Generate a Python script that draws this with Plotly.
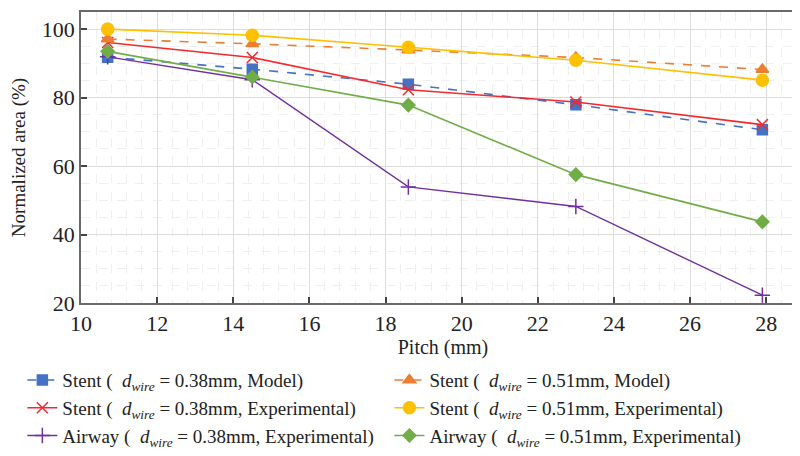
import plotly.graph_objects as go

pitch = [10.7, 14.5, 18.6, 23.0, 27.9]
stent038_model = [91.8, 88.3, 83.9, 77.9, 70.6]
stent051_model = [97.1, 95.7, 93.9, 91.7, 88.2]
stent038_exp = [96.1, 91.7, 82.3, 78.7, 72.1]
stent051_exp = [100.0, 98.2, 94.7, 90.9, 85.1]
airway038_exp = [91.9, 85.2, 53.9, 48.2, 22.3]
airway051_exp = [93.5, 86.0, 77.8, 57.5, 43.7]

def lab(kind, d, src):
    return f"{kind} (  <i>d</i><sub><i>wire</i></sub> = {d}mm, {src})"

series = [
    (lab("Stent", "0.38", "Model"), stent038_model, "#4472C4", "dash", "square", 10, 1.6, "legend"),
    (lab("Stent", "0.38", "Experimental"), stent038_exp, "#F5282D", "solid", "x-thin", 11, 1.6, "legend"),
    (lab("Airway", "0.38", "Experimental"), airway038_exp, "#7030A0", "solid", "cross-thin", 11, 1.4, "legend"),
    (lab("Stent", "0.51", "Model"), stent051_model, "#ED7D31", "dash", "triangle-up", 11, 1.6, "legend2"),
    (lab("Stent", "0.51", "Experimental"), stent051_exp, "#FFC000", "solid", "circle", 12, 1.6, "legend2"),
    (lab("Airway", "0.51", "Experimental"), airway051_exp, "#70AD47", "solid", "diamond", 10, 1.6, "legend2"),
]

fig = go.Figure()
for name, ys, col, dash, sym, size, lw, lg in series:
    fig.add_trace(go.Scatter(
        x=pitch, y=ys, name=name, mode="lines+markers", legend=lg,
        line=dict(color=col, width=lw, dash=dash),
        marker=dict(symbol=sym, size=size, color=col, line=dict(color=col, width=1.5)),
    ))

font = "Liberation Serif"
legfont = dict(family=font, size=19, color="#222")
fig.update_layout(
    width=800, height=456,
    margin=dict(l=73, r=3, t=4, b=161, autoexpand=False),
    paper_bgcolor="white", plot_bgcolor="white",
    font=dict(family=font, size=19, color="#222"),
    showlegend=True,
    legend=dict(
        orientation="v", xref="paper", yref="paper",
        x=-0.081, y=-0.20, xanchor="left", yanchor="top",
        font=legfont, tracegroupgap=0, itemwidth=30, bgcolor="rgba(0,0,0,0)",
    ),
    legend2=dict(
        orientation="v", xref="paper", yref="paper",
        x=0.426, y=-0.20, xanchor="left", yanchor="top",
        font=legfont, tracegroupgap=0, itemwidth=30, bgcolor="rgba(0,0,0,0)",
    ),
    xaxis=dict(
        range=[10, 29.02], tick0=10, dtick=2,
        showgrid=True, gridcolor="#dcdcdc", gridwidth=1,
        minor=dict(dtick=0.4, tick0=10, showgrid=True, gridcolor="#efefef", griddash="dash", gridwidth=1),
        showline=True, linecolor="#6a6a6a", linewidth=1.5, mirror=True,
        ticks="inside", ticklen=6, tickcolor="#444", tickwidth=1.5,
        tickfont=dict(family=font, size=22),
        title=dict(text="Pitch (mm)", font=dict(family=font, size=20), standoff=2),
        zeroline=False,
    ),
    yaxis=dict(
        range=[20, 105], tick0=20, dtick=20,
        showgrid=True, gridcolor="#dcdcdc", gridwidth=1,
        minor=dict(dtick=5, tick0=20, showgrid=True, gridcolor="#efefef", griddash="dash", gridwidth=1),
        showline=True, linecolor="#6a6a6a", linewidth=1.5, mirror=True,
        ticks="inside", ticklen=6, tickcolor="#444", tickwidth=1.5,
        tickfont=dict(family=font, size=22),
        title=dict(text="Normalized area (%)", font=dict(family=font, size=19), standoff=12),
        zeroline=False,
    ),
)

fig.write_html("out.html")
